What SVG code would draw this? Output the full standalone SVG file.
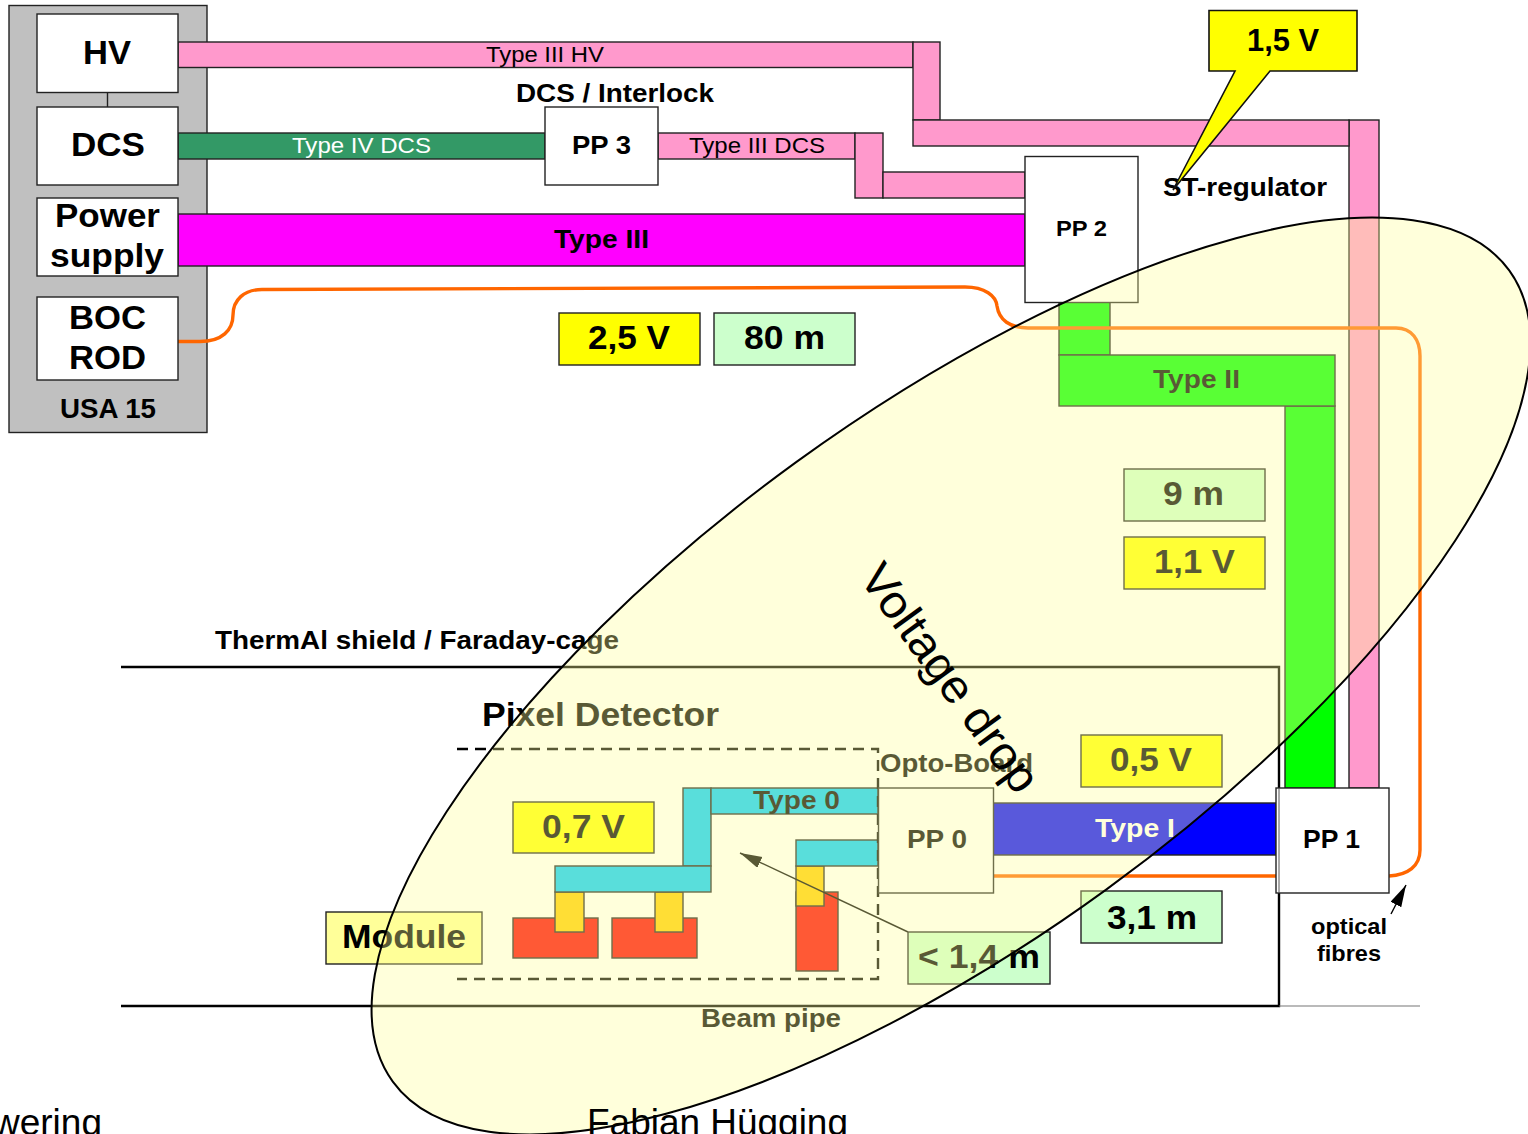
<svg xmlns="http://www.w3.org/2000/svg" width="1528" height="1134" viewBox="0 0 1528 1134">
<style>
text{font-family:"Liberation Sans",Arial,sans-serif;fill:#000}
.b{font-weight:bold}
.box{fill:#fff;stroke:#222;stroke-width:1.4}
.pink{fill:#ff99cc;stroke:#222;stroke-width:1.4}
.teal{fill:#00ccff;stroke:#222;stroke-width:1.4}
.gold{fill:#ffcc00;stroke:#222;stroke-width:1.4}
.red{fill:#ff0000;stroke:#222;stroke-width:1.4}
.grn{fill:#00ff00;stroke:#222;stroke-width:1.4}
.yel{fill:#ffff00;stroke:#222;stroke-width:1.4}
.mint{fill:#ccffcc;stroke:#222;stroke-width:1.4}
.fibre{fill:none;stroke:#ff6600;stroke-width:3.4}
.rule{fill:none;stroke:#000;stroke-width:2.4}
</style>
<defs>
<marker id="ah" markerUnits="userSpaceOnUse" markerWidth="24" markerHeight="14" refX="22" refY="6" orient="auto"><path d="M0 0L22 6L0 12z" fill="#000"/></marker>
</defs>
<rect width="1528" height="1134" fill="#fff"/>
<g id="usa15"><rect x="9" y="5.500" width="198" height="427" fill="#c0c0c0" stroke="#222" stroke-width="1.4"/><text class="b" x="60" y="418" font-size="27" textLength="96" lengthAdjust="spacingAndGlyphs">USA 15</text></g>
<g id="shield">
<path class="rule" d="M121 667H1279V1006H121"/>
<path d="M1279 1006H1420" fill="none" stroke="#777" stroke-width="1.200"/>
<text class="b" x="215" y="649" font-size="25" textLength="404" lengthAdjust="spacingAndGlyphs">ThermAl shield / Faraday-cage</text>
<text class="b" x="482" y="726" font-size="33" textLength="237" lengthAdjust="spacingAndGlyphs">Pixel Detector</text>
<text class="b" x="701" y="1027" font-size="25" textLength="140" lengthAdjust="spacingAndGlyphs">Beam pipe</text>
<text class="b" x="880" y="772" font-size="26" textLength="153" lengthAdjust="spacingAndGlyphs">Opto-Board</text>
</g>
<g id="modules">
<rect class="red" x="513" y="918" width="85" height="40"/>
<rect class="red" x="612" y="918" width="85" height="40"/>
<rect class="red" x="796" y="892" width="42" height="79"/>
<rect class="gold" x="555" y="892" width="29" height="40"/>
<rect class="gold" x="655" y="892" width="28" height="40"/>
<rect class="gold" x="796" y="866" width="28" height="40"/>
</g>
<g id="connectors">
<path d="M107.500 92V107" stroke="#222" stroke-width="1.400"/>
<rect class="pink" x="178" y="42" width="735" height="25.500"/>
<rect class="pink" x="913" y="42" width="27" height="78"/>
<rect class="pink" x="1349" y="120" width="30" height="668"/>
<rect class="pink" x="913" y="120" width="436" height="26"/>
<rect x="178" y="133" width="367" height="26" fill="#339966" stroke="#222" stroke-width="1.400"/>
<rect class="pink" x="658" y="133" width="197" height="26"/>
<rect class="pink" x="855" y="133" width="28" height="65"/>
<rect class="pink" x="883" y="172" width="142" height="26"/>
<rect x="178" y="214" width="847" height="52" fill="#ff00ff" stroke="#222" stroke-width="1.400"/>
<rect class="grn" x="1059" y="302" width="51" height="53"/>
<rect class="grn" x="1285" y="406" width="50" height="382"/>
<rect class="grn" x="1059" y="355" width="276" height="51"/>
<rect x="993" y="803" width="283" height="52" fill="#0000ff" stroke="#222" stroke-width="1.400"/>
<rect class="teal" x="683" y="788" width="28" height="78"/>
<rect class="teal" x="711" y="788" width="167" height="26"/>
<rect class="teal" x="555" y="866" width="156" height="26"/>
<rect class="teal" x="796" y="840" width="82" height="26"/>
<path class="fibre" d="M178 341.500H200C222 341.500 233 330 233 315C233 300 244 289.500 262 289.500L965 287C985 287 996 296 997 306C999 320 1010 328 1028 328H1396C1412 328 1420 340 1420 356V850C1420 866 1408 875 1389 876"/>
<path class="fibre" d="M993 876H1276"/>
<text x="486" y="62" font-size="22" textLength="118" lengthAdjust="spacingAndGlyphs">Type III HV</text>
<text x="292" y="153" font-size="22" textLength="139" lengthAdjust="spacingAndGlyphs" style="fill:#fff">Type IV DCS</text>
<text x="689" y="153" font-size="22" textLength="136" lengthAdjust="spacingAndGlyphs">Type III DCS</text>
<text class="b" x="554" y="248" font-size="25" textLength="95" lengthAdjust="spacingAndGlyphs">Type III</text>
<text class="b" x="1153" y="388" font-size="25" textLength="87" lengthAdjust="spacingAndGlyphs">Type II</text>
<text class="b" x="1095" y="837" font-size="26" textLength="80" lengthAdjust="spacingAndGlyphs" style="fill:#fff">Type I</text>
<text class="b" x="753" y="809" font-size="26" textLength="87" lengthAdjust="spacingAndGlyphs">Type 0</text>
<path d="M908 932L740 853" fill="none" stroke="#000" stroke-width="1.400" marker-end="url(#ah)"/>
<path d="M1391 914L1406 885" fill="none" stroke="#000" stroke-width="1.400" marker-end="url(#ah)"/>
</g>
<path id="opto-frame" d="M457 749H878V979H457" fill="none" stroke="#000" stroke-width="2.400" stroke-dasharray="11 7"/>
<g id="hv"><rect class="box" x="37" y="14" width="141" height="78.500"/><text class="b" x="83" y="64" font-size="33" textLength="48" lengthAdjust="spacingAndGlyphs">HV</text></g>
<g id="dcs"><rect class="box" x="37" y="107" width="141" height="78"/><text class="b" x="71" y="156" font-size="33" textLength="74" lengthAdjust="spacingAndGlyphs">DCS</text></g>
<g id="power-supply"><rect class="box" x="37" y="198" width="141" height="78"/><text class="b" x="55" y="227" font-size="33" textLength="105" lengthAdjust="spacingAndGlyphs">Power</text><text class="b" x="50" y="267" font-size="33" textLength="114" lengthAdjust="spacingAndGlyphs">supply</text></g>
<g id="boc-rod"><rect class="box" x="37" y="297" width="141" height="83"/><text class="b" x="69" y="329" font-size="33" textLength="77" lengthAdjust="spacingAndGlyphs">BOC</text><text class="b" x="69" y="369" font-size="33" textLength="77" lengthAdjust="spacingAndGlyphs">ROD</text></g>
<g id="pp3"><rect class="box" x="545" y="107" width="113" height="78"/><text class="b" x="572" y="154" font-size="26" textLength="59" lengthAdjust="spacingAndGlyphs">PP 3</text><text class="b" x="516" y="102" font-size="26" textLength="198" lengthAdjust="spacingAndGlyphs">DCS / Interlock</text></g>
<g id="pp2"><rect class="box" x="1025" y="156.500" width="113" height="146"/><text class="b" x="1056" y="236" font-size="22" textLength="51" lengthAdjust="spacingAndGlyphs">PP 2</text></g>
<g id="pp1"><rect class="box" x="1276" y="788" width="113" height="105"/><path d="M1279 788V893" stroke="#555" stroke-width="1"/><text class="b" x="1303" y="848" font-size="26" textLength="57" lengthAdjust="spacingAndGlyphs">PP 1</text></g>
<g id="pp0"><rect class="box" x="878.500" y="788" width="115" height="105"/><text class="b" x="907" y="848" font-size="26" textLength="60" lengthAdjust="spacingAndGlyphs">PP 0</text></g>
<g id="v25"><rect class="yel" x="559" y="313" width="141" height="52"/><text class="b" x="588" y="349" font-size="33" textLength="82" lengthAdjust="spacingAndGlyphs">2,5 V</text></g>
<g id="l80"><rect class="mint" x="714" y="313" width="141" height="52"/><text class="b" x="744" y="349" font-size="33" textLength="81" lengthAdjust="spacingAndGlyphs">80 m</text></g>
<g id="l9"><rect class="mint" x="1124" y="469" width="141" height="52"/><text class="b" x="1163" y="505" font-size="33" textLength="61" lengthAdjust="spacingAndGlyphs">9 m</text></g>
<g id="v11"><rect class="yel" x="1124" y="537" width="141" height="52"/><text class="b" x="1154" y="573" font-size="33" textLength="81" lengthAdjust="spacingAndGlyphs">1,1 V</text></g>
<g id="v05"><rect class="yel" x="1081" y="735" width="141" height="52"/><text class="b" x="1110" y="771" font-size="33" textLength="82" lengthAdjust="spacingAndGlyphs">0,5 V</text></g>
<g id="l31"><rect class="mint" x="1081" y="891" width="141" height="52"/><text class="b" x="1107" y="929" font-size="33" textLength="90" lengthAdjust="spacingAndGlyphs">3,1 m</text></g>
<g id="l14"><rect class="mint" x="908" y="932" width="142" height="52"/><text class="b" x="918" y="968" font-size="33" textLength="122" lengthAdjust="spacingAndGlyphs">&lt; 1,4 m</text></g>
<g id="v07"><rect class="yel" x="513" y="802" width="141" height="51"/><text class="b" x="542" y="838" font-size="33" textLength="83" lengthAdjust="spacingAndGlyphs">0,7 V</text></g>
<g id="module"><rect x="326" y="912" width="156" height="52" fill="#ffff99" stroke="#222" stroke-width="1.400"/><text class="b" x="342" y="948" font-size="33" textLength="124" lengthAdjust="spacingAndGlyphs">Module</text></g>
<g id="optical"><text class="b" x="1311" y="934" font-size="22" textLength="76" lengthAdjust="spacingAndGlyphs">optical</text><text class="b" x="1317" y="961" font-size="22" textLength="64" lengthAdjust="spacingAndGlyphs">fibres</text></g>
<g id="st-regulator"><text class="b" x="1163" y="196" font-size="26" textLength="164" lengthAdjust="spacingAndGlyphs">ST-regulator</text>
<path d="M1209 10.500H1357V71H1270L1173 190L1235 71H1209z" fill="#ffff00" stroke="#111" stroke-width="1.600"/><text class="b" x="1247" y="51" font-size="32" textLength="72" lengthAdjust="spacingAndGlyphs">1,5 V</text></g>
<g id="voltage-drop">
<ellipse cx="951" cy="676" rx="690" ry="264" transform="rotate(-36 951 676)" fill="#ffff99" fill-opacity=".35" stroke="#000" stroke-width="2"/>
<text transform="translate(858 578) rotate(54)" font-size="46.500" textLength="270" lengthAdjust="spacingAndGlyphs">Voltage drop</text>
</g>
<g id="footer"><text x="-7" y="1135" font-size="37">wering</text><text x="587" y="1135" font-size="37" textLength="261" lengthAdjust="spacingAndGlyphs">Fabian Hügging</text></g>
</svg>
